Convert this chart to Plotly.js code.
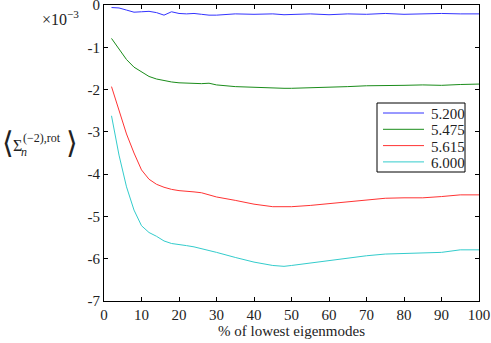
<!DOCTYPE html>
<html>
<head>
<meta charset="utf-8">
<script src="https://cdn.plot.ly/plotly-3.0.1.min.js"></script>
<style>
  body { margin: 0; background: #fff; }
  #plot { width: 491px; height: 343px; }
</style>
</head>
<body>
<div id="plot"></div>
<script>
// values are in units of 1e-3
var seriesNames = ["5.200", "5.475", "5.615", "6.000"];
var colors = ["#3333ff", "#1a8c1a", "#ff3333", "#33cccc"];

var xPct = [2,4,6,8,10,12,14,16,18,20,22,24,26,28,30,35,40,45,48,50,55,60,65,70,75,80,85,90,95,100];

var blue = [-0.06,-0.07,-0.12,-0.17,-0.16,-0.15,-0.18,-0.24,-0.16,-0.20,-0.21,-0.20,-0.22,-0.24,-0.24,-0.21,-0.22,-0.21,-0.23,-0.22,-0.21,-0.23,-0.21,-0.22,-0.20,-0.22,-0.21,-0.20,-0.21,-0.21];
var green = [-0.79,-1.03,-1.29,-1.47,-1.59,-1.69,-1.75,-1.79,-1.82,-1.84,-1.85,-1.86,-1.86,-1.85,-1.89,-1.93,-1.95,-1.97,-1.97,-1.97,-1.96,-1.94,-1.93,-1.91,-1.91,-1.90,-1.89,-1.90,-1.88,-1.87];
var red = [-1.93,-2.51,-3.05,-3.50,-3.90,-4.12,-4.24,-4.31,-4.36,-4.39,-4.40,-4.42,-4.44,-4.49,-4.54,-4.62,-4.71,-4.77,-4.78,-4.77,-4.74,-4.70,-4.66,-4.61,-4.57,-4.56,-4.56,-4.53,-4.49,-4.49];
var cyan = [-2.62,-3.55,-4.30,-4.85,-5.22,-5.38,-5.47,-5.58,-5.64,-5.66,-5.69,-5.72,-5.76,-5.80,-5.85,-5.97,-6.08,-6.16,-6.18,-6.16,-6.10,-6.04,-5.98,-5.93,-5.89,-5.88,-5.87,-5.85,-5.79,-5.79];

var yTickVals = [0,-1,-2,-3,-4,-5,-6,-7];
var yTickText = ["0","-1","-2","-3","-4","-5","-6","-7"];
var xTickVals = [0,10,20,30,40,50,60,70,80,90,100];

var serif = "Liberation Serif";
var ink = "#222";

// plot area in pixels
var L = 104, R = 12, T = 5, B = 42;
var W = 491, H = 343;
function px(x) { return (x - L) / (W - L - R); }
function py(y) { return 1 - (y - T) / (H - T - B); }

var allY = [blue, green, red, cyan];
var traces = [];
for (var i = 0; i < allY.length; i++) {
  traces.push({
    x: xPct,
    y: allY[i],
    name: seriesNames[i],
    type: "scatter",
    mode: "lines",
    line: { color: colors[i], width: 1 }
  });
}

var axisCommon = {
  showgrid: false,
  zeroline: false,
  showline: true,
  linecolor: "black",
  linewidth: 1,
  mirror: "ticks",
  ticks: "inside",
  ticklen: 4,
  tickcolor: "black",
  ticklabeloverflow: "allow",
  tickfont: { family: serif, size: 15, color: ink }
};

// legend box drawn by hand so its spacing follows the picture
var shapes = [
  { type: "rect", xref: "paper", yref: "paper", x0: px(377), x1: px(465), y0: py(103), y1: py(172),
    line: { color: "black", width: 1 }, fillcolor: "white", layer: "above" }
];
var annotations = [];
for (var k = 0; k < seriesNames.length; k++) {
  var rowY = 113 + k * 16.3;
  shapes.push({ type: "line", xref: "paper", yref: "paper", x0: px(383), x1: px(424), y0: py(rowY), y1: py(rowY),
    line: { color: colors[k], width: 1 }, layer: "above" });
  annotations.push({ xref: "paper", yref: "paper", x: px(429), y: py(rowY + 1), xanchor: "left", yanchor: "middle",
    text: seriesNames[k], showarrow: false, font: { family: serif, size: 15, color: ink } });
}

annotations.push(
  { xref: "paper", yref: "paper", x: px(40), y: py(18), xanchor: "left", yanchor: "middle",
    text: "×10<sup>−3</sup>", showarrow: false, font: { family: serif, size: 16, color: ink } },
  { xref: "paper", yref: "paper", x: px(0), y: py(142), xanchor: "left", yanchor: "middle",
    text: "⟨", showarrow: false, font: { family: "DejaVu Serif", size: 30, color: ink } },
  { xref: "paper", yref: "paper", x: px(11), y: py(145), xanchor: "left", yanchor: "middle",
    text: "Σ", showarrow: false, font: { family: serif, size: 16, color: ink } },
  { xref: "paper", yref: "paper", x: px(21), y: py(138), xanchor: "left", yanchor: "middle",
    text: "(−2),rot", showarrow: false, font: { family: serif, size: 12, color: ink } },
  { xref: "paper", yref: "paper", x: px(19), y: py(152), xanchor: "left", yanchor: "middle",
    text: "<i>n</i>", showarrow: false, font: { family: serif, size: 12, color: ink } },
  { xref: "paper", yref: "paper", x: px(64), y: py(142), xanchor: "left", yanchor: "middle",
    text: "⟩", showarrow: false, font: { family: "DejaVu Serif", size: 30, color: ink } }
);

var layout = {
  width: W,
  height: H,
  margin: { l: L, r: R, t: T, b: B },
  paper_bgcolor: "white",
  plot_bgcolor: "white",
  showlegend: false,
  xaxis: Object.assign({}, axisCommon, {
    range: [0, 100],
    tickvals: xTickVals,
    title: { text: "% of lowest eigenmodes", font: { family: serif, size: 15, color: ink }, standoff: 2 }
  }),
  yaxis: Object.assign({}, axisCommon, {
    range: [-7, 0],
    tickvals: yTickVals,
    ticktext: yTickText
  }),
  shapes: shapes,
  annotations: annotations
};

Plotly.newPlot("plot", traces, layout, { staticPlot: true });
</script>
</body>
</html>
